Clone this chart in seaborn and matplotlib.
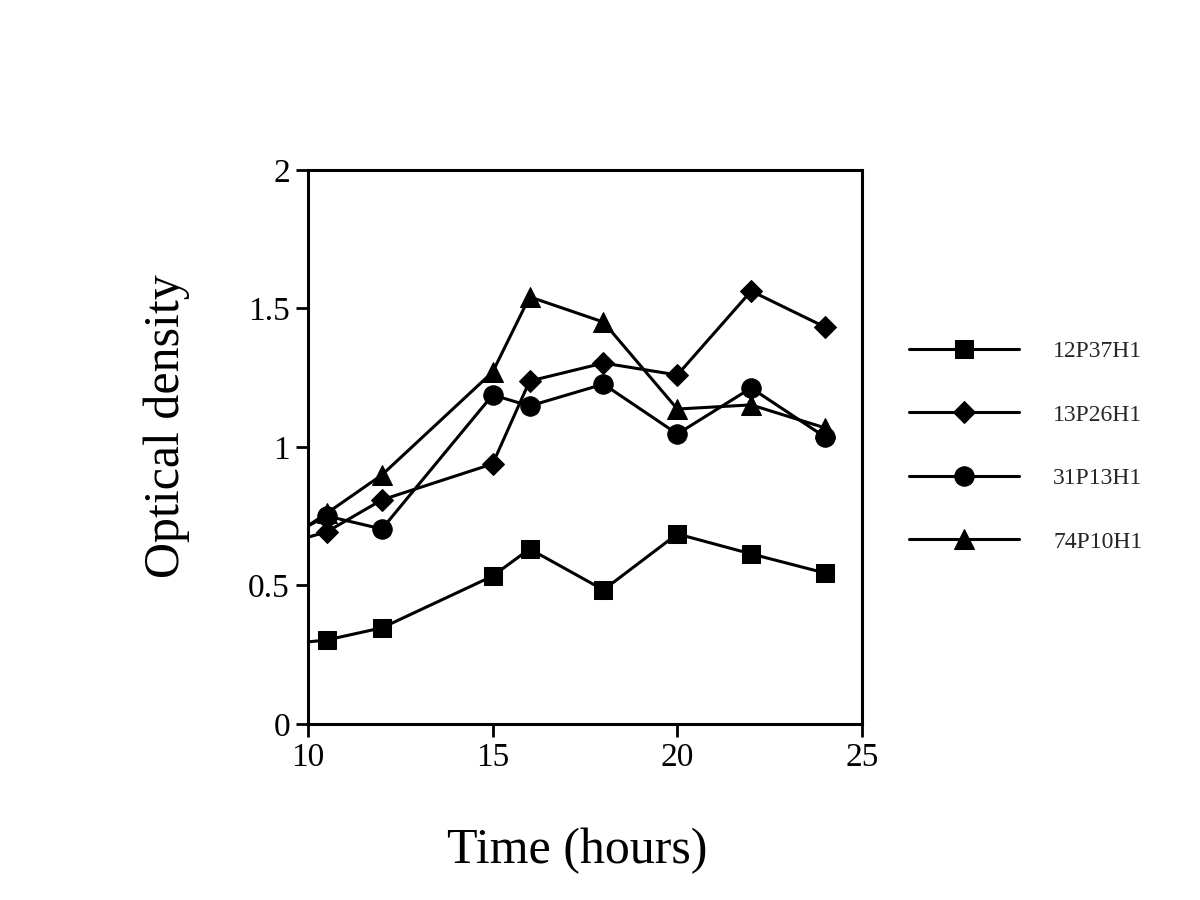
import numpy as np
import pandas as pd
import seaborn as sns
import matplotlib.pyplot as plt

# sampling times (hours); first point lies before the visible axis range
time_h = [8, 10.5, 12, 15, 16, 18, 20, 22, 24]

od_12P37H1 = [0.27, 0.303, 0.347, 0.534, 0.632, 0.484, 0.686, 0.614, 0.545]
od_13P26H1 = [0.60, 0.693, 0.809, 0.939, 1.238, 1.303, 1.260, 1.563, 1.433]
od_31P13H1 = [0.57, 0.751, 0.704, 1.188, 1.148, 1.227, 1.047, 1.213, 1.036]
od_74P10H1 = [0.54, 0.760, 0.899, 1.271, 1.542, 1.451, 1.137, 1.152, 1.069]

strains = ["12P37H1", "13P26H1", "31P13H1", "74P10H1"]
series = [od_12P37H1, od_13P26H1, od_31P13H1, od_74P10H1]
markers = ["s", "D", "o", "^"]
msizes = [13.5, 11, 14, 14]
zorders = [3, 3, 4, 2]  # circles sit on top of the triangles

x_ticks = [10, 15, 20, 25]
y_ticks = [0, 0.5, 1, 1.5, 2]
y_ticklabels = ["0", "0.5", "1", "1.5", "2"]

sns.set_theme(style="white")
plt.rcParams["font.family"] = ["Liberation Serif", "DejaVu Serif"]

fig = plt.figure(figsize=(12, 9), dpi=100)
ax = fig.add_axes([0.2567, 0.1956, 0.4616, 0.6155])

for name, vals, mk, ms, z in zip(strains, series, markers, msizes, zorders):
    df = pd.DataFrame({"time": time_h, "od": vals})
    sns.lineplot(data=df, x="time", y="od", ax=ax, color="black",
                 marker=mk, markersize=ms, markeredgecolor="black",
                 linewidth=2.2, label=name, zorder=z)

ax.set_xlim(10, 25)
ax.set_ylim(0, 2)
ax.set_xticks(x_ticks)
ax.set_yticks(y_ticks)
ax.set_yticklabels(y_ticklabels)
ax.tick_params(axis="both", which="major", direction="out", length=9,
               width=2, labelsize=24, color="black", labelcolor="black",
               bottom=True, left=True, top=False, right=False, pad=4)
for sp in ax.spines.values():
    sp.set_visible(True)
    sp.set_color("black")
    sp.set_linewidth(2.2)
    sp.set_zorder(5)

ax.set_xlabel("Time (hours)", fontsize=36, color="black", labelpad=40)
ax.set_ylabel("Optical density", fontsize=36, color="black", labelpad=42)
ax.xaxis.label.set_x(0.4856)
ax.yaxis.label.set_y(0.538)

handles, labels = ax.get_legend_handles_labels()
ax.legend(handles, labels, loc="upper left", bbox_to_anchor=(0.7575, 0.6217),
          bbox_transform=fig.transFigure, frameon=False, fontsize=17,
          handlelength=4.66, handletextpad=1.44, labelspacing=1.78,
          borderpad=0, borderaxespad=0)

fig.savefig("out.png", dpi=100)
